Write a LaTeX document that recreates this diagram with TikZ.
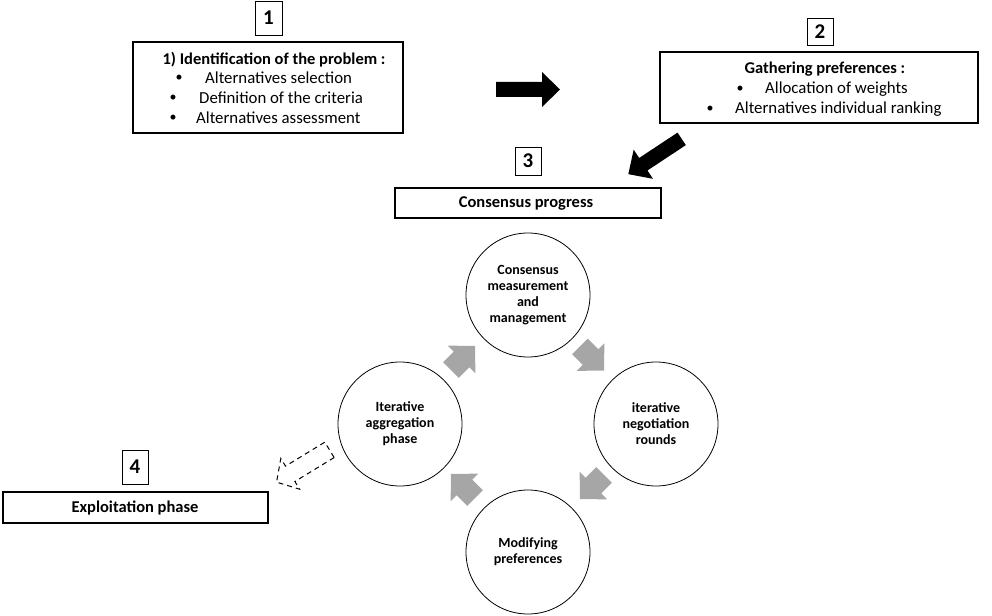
\documentclass[tikz,border=0pt]{standalone}
\usepackage{fontspec}
\setmainfont{Carlito}
\usetikzlibrary{calc}
\definecolor{arrowgray}{HTML}{A6A6A6}
\begin{document}
\begin{tikzpicture}[x=1pt,y=-1pt,
  numbox/.style={draw,line width=0.8pt,inner sep=0pt,font=\fontsize{21}{23}\selectfont\bfseries},
  mainbox/.style={draw,line width=1.6pt,inner sep=0pt},
  headtext/.style={inner sep=0pt,font=\fontsize{16.5}{18}\selectfont\bfseries},
  itemtext/.style={inner sep=0pt,anchor=west,font=\fontsize{16.8}{18}\selectfont},
  bullettext/.style={inner sep=0pt,font=\fontsize{14}{18}\selectfont},
  stagecircle/.style={draw,line width=0.8pt,circle,minimum size=124pt,inner sep=0pt,align=center,font=\fontsize{14}{16}\selectfont\bfseries},
  bigarrow/.pic={\path[pic actions] (-32,-7.5) -- (14,-7.5) -- (14,-17.5) -- (32,0) -- (14,17.5) -- (14,7.5) -- (-32,7.5) -- cycle;},
  dasharrow/.pic={\path[pic actions] (-31,-9) -- (15,-9) -- (15,-18) -- (31,0) -- (15,18) -- (15,9) -- (-31,9) -- cycle;},
  cyclearrow/.pic={\path[pic actions] (-17,-11) -- (-2,-11) -- (-2,-19.5) -- (17,0) -- (-2,19.5) -- (-2,11) -- (-17,11) -- cycle;}
]
\useasboundingbox (0,0) rectangle (992,615);

% step 1
\node[numbox,minimum width=27pt,minimum height=34pt] (n1) at (268.5,18) {1};
\node[mainbox,minimum width=270pt,minimum height=91pt] (b1) at (268,87.5) {};
\node[headtext] (h1) at (274,60) {1) Identification of the problem :};
\node[bullettext] (b1a) at (179,78) {•};
\node[itemtext] (t1a) at (205,78) {Alternatives selection};
\node[bullettext] (b1b) at (173,98) {•};
\node[itemtext] (t1b) at (199,98) {Definition of the criteria};
\node[bullettext] (b1c) at (173,118) {•};
\node[itemtext] (t1c) at (196,118) {Alternatives assessment};

% step 2
\node[numbox,minimum width=26pt,minimum height=27pt] (n2) at (820,31.5) {2};
\node[mainbox,minimum width=318pt,minimum height=71pt] (b2) at (819,87.5) {};
\node[headtext] (h2) at (825,69) {Gathering preferences :};
\node[bullettext] (b2a) at (740,89) {•};
\node[itemtext] (t2a) at (765,89) {Allocation of weights};
\node[bullettext] (b2b) at (710,109) {•};
\node[itemtext] (t2b) at (735,109) {Alternatives individual ranking};

% step 3
\node[numbox,minimum width=26pt,minimum height=28pt] (n3) at (528,161) {3};
\node[mainbox,minimum width=266pt,minimum height=30pt] (b3) at (528,203) {};
\node[headtext] (h3) at (526,203) {Consensus progress};

% step 4
\node[numbox,minimum width=26pt,minimum height=34pt] (n4) at (135,467) {4};
\node[mainbox,minimum width=265pt,minimum height=31pt] (b4) at (135.5,507.5) {};
\node[headtext] (h4) at (135,508) {Exploitation phase};

% black arrows
\pic[fill=black] at (528,89.5) {bigarrow};
\pic[fill=black,rotate=-146.5] at (655,156.5) {bigarrow};

% cycle
\node[stagecircle] (top) at (528,295) {Consensus\\measurement\\and\\management};
\node[stagecircle] (right) at (656,424) {iterative\\negotiation\\rounds};
\node[stagecircle] (bottom) at (528,552) {Modifying\\preferences};
\node[stagecircle] (left) at (400,424) {Iterative\\aggregation\\phase};

\pic[fill=arrowgray,rotate=45] at ($(left)!0.5!(top)+(-1,-1.5)$) {cyclearrow};
\pic[fill=arrowgray,rotate=-45] at ($(top)!0.5!(right)+(0,-1)$) {cyclearrow};
\pic[fill=arrowgray,rotate=-135] at ($(right)!0.5!(bottom)+(0,-1)$) {cyclearrow};
\pic[fill=arrowgray,rotate=135] at ($(bottom)!0.5!(left)+(-1,-2)$) {cyclearrow};

% dashed arrow
\pic[draw=black,line width=1pt,dash pattern=on 5pt off 4pt,rotate=-148.6] at (303,466) {dasharrow};
\end{tikzpicture}
\end{document}
